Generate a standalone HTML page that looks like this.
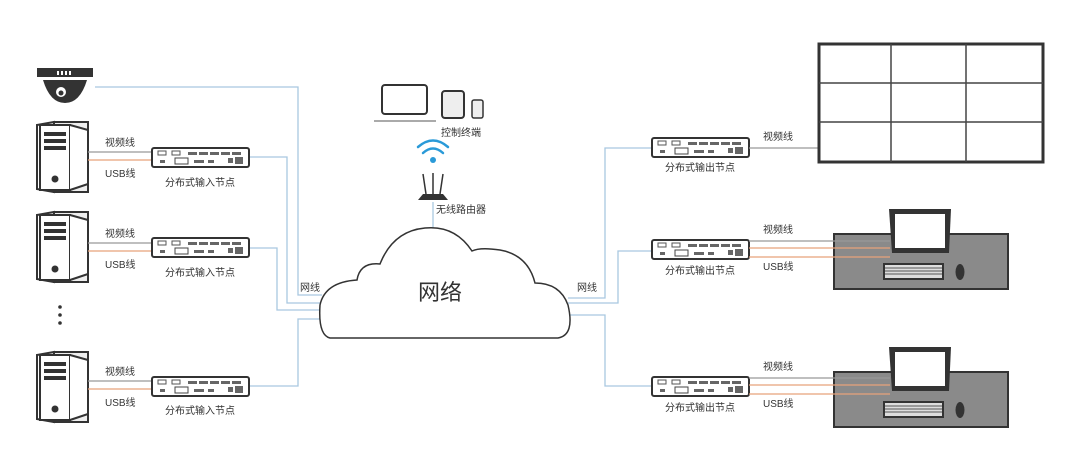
<!DOCTYPE html>
<html><head><meta charset="utf-8"><style>
html,body{margin:0;padding:0;background:#fff;}
svg{display:block;}
text{font-family:"Liberation Sans","Noto Sans CJK SC",sans-serif;fill:#333;}
</style></head><body>
<svg width="1080" height="452" viewBox="0 0 1080 452" xmlns="http://www.w3.org/2000/svg">
<defs>
<g id="node">
  <rect x="0" y="0" width="97" height="19" rx="2" fill="#fff" stroke="#333" stroke-width="2"/>
  <rect x="6" y="3" width="8" height="4" fill="none" stroke="#555" stroke-width="1"/>
  <rect x="20" y="3" width="8" height="4" fill="none" stroke="#555" stroke-width="1"/>
  <g fill="#666"><rect x="36" y="4" width="9" height="3"/><rect x="47" y="4" width="9" height="3"/><rect x="58" y="4" width="9" height="3"/><rect x="69" y="4" width="9" height="3"/><rect x="80" y="4" width="9" height="3"/>
  <rect x="8" y="12" width="5" height="3"/><rect x="23" y="10" width="13" height="6" fill="none" stroke="#444"/><rect x="42" y="12" width="10" height="3"/><rect x="56" y="12" width="6" height="3"/><rect x="76" y="10" width="5" height="5"/><rect x="83" y="9" width="8" height="7"/></g>
</g>
<g id="pc">
  <path d="M17 0 L51 0 L51 70 L17 70 Z" fill="#eee" stroke="#333" stroke-width="2"/>
  <path d="M0 3 L17 0 L17 70 L0 67 Z" fill="#fff" stroke="#333" stroke-width="2"/>
  <rect x="4" y="10" width="24" height="4" fill="#333"/>
  <rect x="4" y="17" width="24" height="4" fill="#333"/>
  <rect x="4" y="24" width="24" height="4" fill="#333"/>
  <rect x="3" y="3" width="30" height="65" fill="#fff" stroke="#333" stroke-width="2"/>
  <rect x="7" y="10" width="22" height="4" fill="#333"/>
  <rect x="7" y="17" width="22" height="4" fill="#333"/>
  <rect x="7" y="24" width="22" height="4" fill="#333"/>
  <circle cx="18" cy="57" r="3.5" fill="#333"/>
  <path d="M33 3 L51 8 L51 62 L33 68" fill="#fff" stroke="#333" stroke-width="2"/>
</g>
<g id="desk">
  <rect x="0" y="25" width="174" height="55" fill="#8a8a8a" stroke="#333" stroke-width="2"/>
  <path d="M55 0 L117 0 L115 44 L58 44 Z" fill="#333"/>
  <rect x="61" y="5" width="50" height="34" fill="#fff"/>
  <rect x="49" y="54" width="61" height="17" fill="#333"/>
  <rect x="51" y="56" width="57" height="13" fill="#ddd"/>
  <g stroke="#555" stroke-width="1"><line x1="51" y1="59" x2="108" y2="59"/><line x1="51" y1="62" x2="108" y2="62"/><line x1="51" y1="65" x2="108" y2="65"/></g>
  <ellipse cx="126" cy="63" rx="4.5" ry="8" fill="#333"/>
</g>
</defs>

<!-- network lines (blue) -->
<g fill="none" stroke="#a9c8e0" stroke-width="1.3">
  <polyline points="95,87 298,87 298,295 322,295"/>
  <polyline points="249,157 287,157 287,303 322,303"/>
  <polyline points="249,248 277,248 277,310 322,310"/>
  <polyline points="249,386 298,386 298,319 322,319"/>
  <polyline points="568,298 605,298 605,148 652,148"/>
  <polyline points="568,303 618,303 618,251 652,251"/>
  <polyline points="568,315 605,315 605,386 652,386"/>
</g>
<line x1="433" y1="202" x2="433" y2="229" stroke="#a9c8e0" stroke-width="1.3"/>

<!-- camera -->
<rect x="37" y="68" width="56" height="9" fill="#333"/>
<g fill="#fff"><rect x="57" y="71" width="2" height="4"/><rect x="61" y="71" width="2" height="4"/><rect x="65" y="71" width="2" height="4"/><rect x="69" y="71" width="2" height="4"/></g>
<path d="M43 80 L87 80 Q80 103 65 103 Q50 103 43 80 Z" fill="#333"/>
<circle cx="61" cy="92" r="5" fill="#fff"/><circle cx="61" cy="93" r="2.5" fill="#333"/>

<!-- PCs -->
<use href="#pc" x="37" y="122"/>
<use href="#pc" x="37" y="212"/>
<use href="#pc" x="37" y="352"/>
<g fill="#333"><circle cx="60" cy="307" r="1.8"/><circle cx="60" cy="315" r="1.8"/><circle cx="60" cy="323" r="1.8"/></g>

<!-- left video/usb lines -->
<g stroke-width="1.2">
  <line x1="88" y1="152" x2="152" y2="152" stroke="#999"/><line x1="88" y1="160" x2="152" y2="160" stroke="#e8a27a"/>
  <line x1="88" y1="243" x2="152" y2="243" stroke="#999"/><line x1="88" y1="251" x2="152" y2="251" stroke="#e8a27a"/>
  <line x1="88" y1="381" x2="152" y2="381" stroke="#999"/><line x1="88" y1="389" x2="152" y2="389" stroke="#e8a27a"/>
</g>
<g font-size="10">
  <text x="105" y="146">视频线</text><text x="105" y="177">USB线</text>
  <text x="105" y="237">视频线</text><text x="105" y="268">USB线</text>
  <text x="105" y="375">视频线</text><text x="105" y="406">USB线</text>
</g>
<use href="#node" x="152" y="148"/>
<use href="#node" x="152" y="238"/>
<use href="#node" x="152" y="377"/>
<g font-size="10" text-anchor="middle">
  <text x="200" y="186">分布式输入节点</text>
  <text x="200" y="276">分布式输入节点</text>
  <text x="200" y="414">分布式输入节点</text>
  <text x="700" y="171">分布式输出节点</text>
  <text x="700" y="274">分布式输出节点</text>
  <text x="700" y="411">分布式输出节点</text>
</g>

<!-- devices top -->
<rect x="382" y="85" width="45" height="29" rx="3" fill="#fff" stroke="#333" stroke-width="2"/>
<line x1="374" y1="121" x2="436" y2="121" stroke="#555" stroke-width="1"/>
<rect x="442" y="91" width="22" height="27" rx="3" fill="#eee" stroke="#333" stroke-width="2"/>
<rect x="472" y="100" width="11" height="18" rx="2" fill="#eee" stroke="#333" stroke-width="1.5"/>
<text x="441" y="136" font-size="10">控制终端</text>
<!-- wifi -->
<g fill="none" stroke="#2a9ad8" stroke-width="2.5" stroke-linecap="round">
  <path d="M418 147 Q433 134 448 147"/>
  <path d="M423 153 Q433 144 443 153"/>
</g>
<circle cx="433" cy="160" r="3" fill="#2a9ad8"/>
<g stroke="#333" stroke-width="1.5"><line x1="423" y1="174" x2="426" y2="194"/><line x1="433" y1="173" x2="433" y2="194"/><line x1="443" y1="174" x2="440" y2="194"/></g>
<path d="M418 200 L423 194 L443 194 L448 200 Z" fill="#333"/>
<text x="436" y="213" font-size="10">无线路由器</text>

<!-- cloud -->
<path d="M330 338 L558 338 Q575 335 568 305 Q560 283 535 283 Q528 255 500 250 Q480 247 472 251 Q455 225 425 228 Q393 231 380 264 Q360 262 357 280 Q325 282 320 305 Q318 335 330 338 Z" fill="#fff" stroke="#333" stroke-width="1.5"/>
<text x="440" y="300" font-size="22" text-anchor="middle">网络</text>
<text x="300" y="291" font-size="10">网线</text>
<text x="577" y="291" font-size="10">网线</text>

<!-- right nodes -->
<use href="#node" x="652" y="138"/>
<use href="#node" x="652" y="240"/>
<use href="#node" x="652" y="377"/>
<line x1="749" y1="148" x2="818" y2="148" stroke="#999" stroke-width="1.2"/>
<text x="763" y="140" font-size="10">视频线</text>

<!-- video wall -->
<rect x="819" y="44" width="224" height="118" fill="#fff" stroke="#333" stroke-width="3"/>
<g stroke="#444" stroke-width="1.5"><line x1="891" y1="44" x2="891" y2="162"/><line x1="966" y1="44" x2="966" y2="162"/><line x1="819" y1="83" x2="1043" y2="83"/><line x1="819" y1="122" x2="1043" y2="122"/></g>

<!-- desks -->
<use href="#desk" x="834" y="209"/>
<use href="#desk" x="834" y="347"/>
<g stroke-width="1.2">
  <line x1="749" y1="241" x2="890" y2="241" stroke="#999"/><line x1="749" y1="248" x2="890" y2="248" stroke="#e8a27a"/><line x1="749" y1="257" x2="890" y2="257" stroke="#e8a27a"/>
  <line x1="749" y1="378" x2="890" y2="378" stroke="#999"/><line x1="749" y1="385" x2="890" y2="385" stroke="#e8a27a"/><line x1="749" y1="394" x2="890" y2="394" stroke="#e8a27a"/>
</g>
<g font-size="10">
  <text x="763" y="233">视频线</text><text x="763" y="270">USB线</text>
  <text x="763" y="370">视频线</text><text x="763" y="407">USB线</text>
</g>
</svg>
</body></html>
